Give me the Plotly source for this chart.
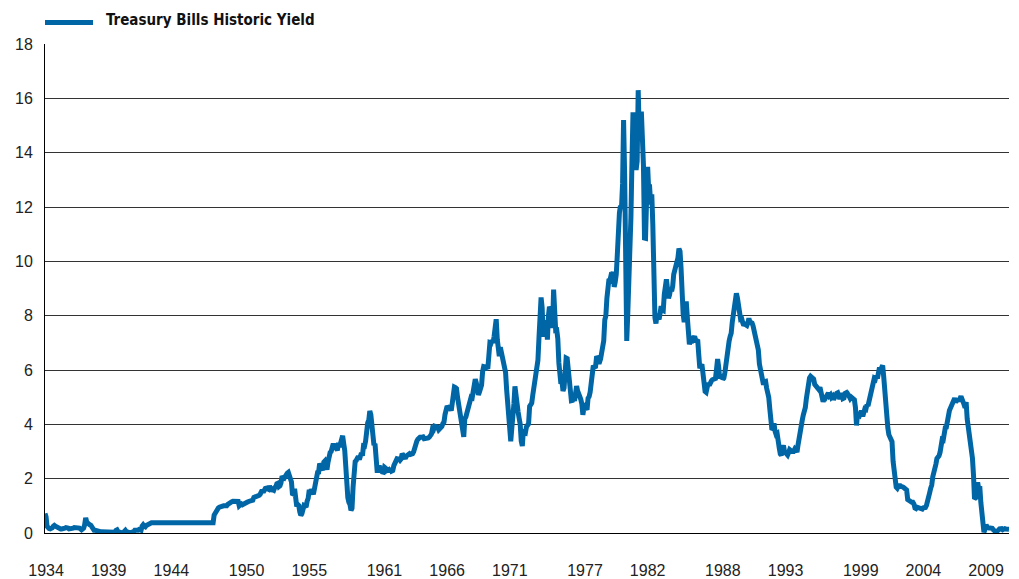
import pandas as pd
import plotly.graph_objects as go

# Monthly 3-month Treasury bill yields (%), Jan 1934 onward
yields_1930s = [
    0.72, 0.60, 0.25, 0.15, 0.16, 0.15, 0.15, 0.19, 0.25, 0.28, 0.25, 0.22,
    0.20, 0.18, 0.15, 0.15, 0.15, 0.15, 0.15, 0.18, 0.20, 0.20, 0.18, 0.15,
    0.15, 0.15, 0.15, 0.18, 0.20, 0.20, 0.18, 0.20, 0.20, 0.18, 0.15, 0.12,
    0.15, 0.18, 0.30, 0.56, 0.40, 0.35, 0.30, 0.30, 0.28, 0.20, 0.12, 0.10,
    0.10, 0.08, 0.06, 0.05, 0.05, 0.05, 0.05, 0.05, 0.05, 0.05, 0.04, 0.04,
    0.03, 0.03, 0.03, 0.02, 0.02, 0.02, 0.02, 0.03, 0.10, 0.12, 0.05, 0.02,
]
yields_1940s = [
    0.01, 0.01, 0.01, 0.01, 0.06, 0.10, 0.05, 0.02, 0.01, 0.01, 0.01, 0.01,
    0.01, 0.05, 0.10, 0.10, 0.08, 0.10, 0.13, 0.12, 0.10, 0.25, 0.30, 0.25,
    0.23, 0.28, 0.30, 0.35, 0.37, 0.375, 0.375, 0.375, 0.375, 0.375, 0.375, 0.375,
    0.375, 0.375, 0.375, 0.375, 0.375, 0.375, 0.375, 0.375, 0.375, 0.375, 0.375, 0.375,
    0.375, 0.375, 0.375, 0.375, 0.375, 0.375, 0.375, 0.375, 0.375, 0.375, 0.375, 0.375,
    0.375, 0.375, 0.375, 0.375, 0.375, 0.375, 0.375, 0.375, 0.375, 0.375, 0.375, 0.375,
    0.375, 0.375, 0.375, 0.375, 0.375, 0.375, 0.375, 0.375, 0.375, 0.375, 0.375, 0.375,
    0.375, 0.375, 0.375, 0.375, 0.375, 0.375, 0.66, 0.75, 0.80, 0.85, 0.92, 0.95,
    0.97, 1.00, 1.00, 1.00, 1.00, 1.00, 1.00, 1.05, 1.09, 1.12, 1.14, 1.15,
    1.17, 1.17, 1.17, 1.17, 1.17, 1.16, 1.00, 1.04, 1.07, 1.04, 1.07, 1.10,
]
yields_1950s = [
    1.10, 1.13, 1.14, 1.16, 1.17, 1.17, 1.17, 1.21, 1.31, 1.32, 1.36, 1.37,
    1.39, 1.39, 1.42, 1.52, 1.58, 1.50, 1.59, 1.64, 1.65, 1.61, 1.61, 1.73,
    1.57, 1.54, 1.59, 1.57, 1.67, 1.70, 1.81, 1.83, 1.71, 1.74, 1.85, 2.09,
    2.04, 2.02, 2.08, 2.18, 2.20, 2.23, 2.10, 2.09, 1.88, 1.40, 1.43, 1.63,
    1.21, 0.98, 1.05, 1.01, 0.78, 0.65, 0.71, 0.89, 1.01, 0.99, 0.95, 1.17,
    1.28, 1.59, 1.45, 1.61, 1.43, 1.43, 1.62, 1.90, 2.07, 2.23, 2.24, 2.56,
    2.46, 2.37, 2.31, 2.61, 2.65, 2.53, 2.33, 2.61, 2.85, 2.96, 3.00, 3.23,
    3.29, 3.16, 3.14, 3.11, 3.04, 3.32, 3.16, 3.37, 3.53, 3.58, 3.29, 3.04,
    2.44, 1.53, 1.30, 1.13, 1.06, 0.83, 0.91, 1.69, 2.44, 2.63, 2.67, 2.77,
    2.82, 2.70, 2.80, 2.95, 2.84, 3.21, 3.20, 3.38, 4.04, 4.05, 4.15, 4.49,
]
yields_1960s = [
    4.35, 3.96, 3.31, 3.23, 3.29, 2.46, 2.30, 2.30, 2.48, 2.30, 2.37, 2.25,
    2.24, 2.42, 2.39, 2.29, 2.29, 2.33, 2.24, 2.39, 2.28, 2.30, 2.48, 2.60,
    2.72, 2.73, 2.72, 2.73, 2.68, 2.73, 2.92, 2.82, 2.78, 2.74, 2.83, 2.87,
    2.91, 2.92, 2.89, 2.90, 2.92, 2.99, 3.18, 3.32, 3.38, 3.45, 3.52, 3.52,
    3.52, 3.53, 3.54, 3.47, 3.48, 3.48, 3.46, 3.50, 3.53, 3.57, 3.64, 3.84,
    3.81, 3.93, 3.93, 3.93, 3.89, 3.80, 3.84, 3.84, 3.92, 4.03, 4.08, 4.36,
    4.60, 4.67, 4.63, 4.61, 4.64, 4.50, 4.80, 4.96, 5.37, 5.35, 5.32, 5.00,
    4.72, 4.56, 4.26, 3.84, 3.60, 3.54, 4.21, 4.27, 4.42, 4.56, 4.73, 4.97,
    5.00, 4.98, 5.17, 5.38, 5.66, 5.52, 5.31, 5.09, 5.19, 5.35, 5.45, 5.94,
    6.13, 6.12, 6.01, 6.11, 6.04, 6.44, 7.00, 6.98, 7.09, 7.00, 7.24, 7.82,
]
yields_1970s = [
    7.87, 7.13, 6.63, 6.51, 6.84, 6.68, 6.45, 6.41, 6.12, 5.91, 5.28, 4.87,
    4.44, 3.70, 3.38, 3.86, 4.14, 4.75, 5.40, 4.94, 4.69, 4.46, 4.22, 4.01,
    3.38, 3.20, 3.73, 3.71, 3.69, 3.91, 3.98, 4.02, 4.66, 4.74, 4.78, 5.07,
    5.41, 5.60, 6.09, 6.26, 6.36, 7.19, 8.01, 8.67, 8.29, 7.22, 7.83, 7.45,
    7.77, 7.12, 7.96, 8.33, 8.23, 7.90, 7.55, 8.96, 8.06, 7.46, 7.47, 7.15,
    6.26, 5.50, 5.49, 5.61, 5.23, 5.34, 6.13, 6.44, 6.42, 5.96, 5.48, 5.44,
    4.87, 4.88, 5.00, 4.86, 5.20, 5.41, 5.23, 5.14, 5.08, 4.92, 4.75, 4.35,
    4.62, 4.67, 4.60, 4.54, 4.96, 5.02, 5.19, 5.49, 5.81, 6.16, 6.10, 6.07,
    6.44, 6.45, 6.29, 6.29, 6.41, 6.73, 7.01, 7.08, 7.85, 7.99, 8.64, 9.08,
    9.35, 9.32, 9.48, 9.46, 9.61, 9.06, 9.24, 9.52, 10.26, 11.70, 11.79, 12.04,
]
yields_1980s = [
    12.00, 12.86, 15.20, 13.20, 8.58, 7.07, 8.06, 9.13, 10.27, 11.62, 13.73, 15.49,
    15.02, 14.79, 13.36, 13.69, 16.30, 14.73, 14.95, 15.51, 14.70, 13.54, 10.86, 10.85,
    12.28, 13.48, 12.68, 12.70, 12.09, 12.47, 11.35, 8.68, 7.92, 7.71, 8.07, 7.94,
    7.86, 8.11, 8.35, 8.21, 8.19, 8.79, 9.08, 9.34, 9.00, 8.64, 8.76, 9.00,
    8.90, 9.09, 9.52, 9.69, 9.83, 9.87, 10.12, 10.47, 10.37, 9.74, 8.61, 8.06,
    7.76, 8.27, 8.52, 7.95, 7.48, 6.95, 7.08, 7.14, 7.10, 7.16, 7.24, 7.10,
    7.07, 7.06, 6.56, 6.06, 6.15, 6.21, 5.83, 5.53, 5.21, 5.18, 5.35, 5.53,
    5.43, 5.59, 5.59, 5.64, 5.66, 5.67, 5.69, 6.04, 6.40, 6.13, 5.69, 5.77,
    5.81, 5.66, 5.70, 5.91, 6.26, 6.46, 6.73, 7.06, 7.24, 7.35, 7.76, 8.07,
    8.27, 8.53, 8.82, 8.65, 8.43, 8.15, 7.88, 7.90, 7.75, 7.64, 7.69, 7.63,
]
yields_1990s = [
    7.64, 7.74, 7.90, 7.77, 7.74, 7.73, 7.62, 7.45, 7.36, 7.17, 7.06, 6.74,
    6.22, 5.94, 5.91, 5.65, 5.46, 5.57, 5.58, 5.33, 5.22, 4.99, 4.56, 4.07,
    3.80, 3.84, 4.04, 3.75, 3.63, 3.66, 3.21, 3.13, 2.91, 2.86, 3.13, 3.22,
    3.00, 2.93, 2.95, 2.87, 2.96, 3.07, 3.04, 3.02, 2.95, 3.02, 3.10, 3.06,
    2.98, 3.25, 3.50, 3.68, 4.14, 4.14, 4.33, 4.48, 4.62, 4.95, 5.29, 5.60,
    5.71, 5.77, 5.73, 5.65, 5.67, 5.47, 5.42, 5.40, 5.28, 5.28, 5.36, 5.14,
    5.00, 4.83, 4.96, 4.95, 5.02, 5.09, 5.15, 5.05, 5.09, 4.99, 5.03, 4.91,
    5.03, 5.01, 5.14, 5.16, 5.05, 4.93, 5.05, 5.14, 4.95, 4.97, 5.14, 5.16,
    5.04, 5.09, 5.03, 4.95, 5.00, 4.98, 4.96, 4.90, 4.61, 3.96, 4.41, 4.39,
    4.34, 4.44, 4.44, 4.29, 4.50, 4.57, 4.55, 4.72, 4.68, 4.86, 5.07, 5.20,
]
yields_2000s = [
    5.32, 5.55, 5.69, 5.66, 5.79, 5.69, 5.96, 6.09, 6.00, 6.11, 6.17, 5.77,
    5.15, 4.88, 4.42, 3.87, 3.62, 3.49, 3.51, 3.36, 2.64, 2.16, 1.87, 1.69,
    1.65, 1.73, 1.79, 1.72, 1.73, 1.70, 1.68, 1.62, 1.63, 1.58, 1.23, 1.19,
    1.17, 1.17, 1.13, 1.13, 1.07, 0.92, 0.90, 0.95, 0.94, 0.92, 0.93, 0.90,
    0.88, 0.93, 0.94, 0.94, 1.02, 1.27, 1.33, 1.48, 1.65, 1.76, 2.07, 2.19,
    2.33, 2.54, 2.74, 2.78, 2.84, 2.97, 3.22, 3.44, 3.42, 3.71, 3.88, 3.89,
    4.24, 4.43, 4.51, 4.60, 4.72, 4.79, 4.95, 4.96, 4.81, 4.92, 4.94, 4.85,
    4.98, 5.03, 4.94, 4.87, 4.73, 4.61, 4.82, 4.20, 3.89, 3.90, 3.27, 3.00,
    2.75, 2.12, 1.26, 1.29, 1.73, 1.86, 1.63, 1.72, 1.13, 0.67, 0.19, 0.03,
    0.13, 0.30, 0.22, 0.16, 0.18, 0.18, 0.18, 0.17, 0.12, 0.07, 0.05, 0.05,
]
yields_2010s = [
    0.06, 0.11, 0.15, 0.16, 0.16, 0.12, 0.16, 0.16, 0.15, 0.13, 0.14, 0.14,
]

tick_years = ["1934", "1939", "1944", "1950", "1955", "1961", "1966", "1971",
              "1977", "1982", "1988", "1993", "1999", "2004", "2009"]
y_ticks = [0, 2, 4, 6, 8, 10, 12, 14, 16, 18]
series_name = "Treasury Bills Historic Yield"
line_color = "#0066A6"

yields = (yields_1930s + yields_1940s + yields_1950s + yields_1960s +
          yields_1970s + yields_1980s + yields_1990s + yields_2000s + yields_2010s)
dates = pd.date_range("1934-01-01", periods=len(yields), freq="MS")

W, H = 1019, 579
ML, MR, MT, MB = 45, 10, 44, 46
PW, PH = W - ML - MR, H - MT - MB


def px_x(px):
    return (px - ML) / PW


def px_y(py):
    return 1 + (MT - py) / PH


fig = go.Figure()
fig.add_trace(go.Scatter(
    x=dates, y=yields, mode="lines", name=series_name,
    line=dict(color=line_color, width=5),
    showlegend=False,
))

# Legend key drawn as a line sample plus bold label
fig.add_shape(type="line", xref="paper", yref="paper",
              x0=px_x(45), x1=px_x(93), y0=px_y(22.5), y1=px_y(22.5),
              line=dict(color=line_color, width=5))
fig.add_annotation(
    xref="paper", yref="paper", x=px_x(104), y=px_y(20),
    xanchor="left", yanchor="middle", showarrow=False,
    text="<b>" + series_name + "</b>",
    font=dict(family="DejaVu Sans Condensed, Liberation Sans Narrow, Liberation Sans, sans-serif",
              size=15, color="#111111"),
)

fig.update_layout(
    width=W, height=H,
    margin=dict(l=ML, r=MR, t=MT, b=MB, autoexpand=False),
    paper_bgcolor="white", plot_bgcolor="white",
    font=dict(family="Liberation Sans, Arial, sans-serif", size=16, color="#222222"),
    showlegend=False,
    xaxis=dict(
        type="date",
        range=[dates[0], dates[-1]],
        tickvals=[pd.Timestamp(y + "-02-01") for y in tick_years],
        ticktext=tick_years,
        showgrid=False, zeroline=False,
        showline=True, linecolor="#000000", linewidth=1,
        ticks="", ticklabelstandoff=23,
    ),
    yaxis=dict(
        range=[0, 18], tickvals=y_ticks,
        showgrid=True, gridcolor="#333333", gridwidth=1,
        zeroline=False,
        showline=True, linecolor="#000000", linewidth=1,
        ticks="", ticklabelstandoff=8,
    ),
)

fig.write_html("out.html")
